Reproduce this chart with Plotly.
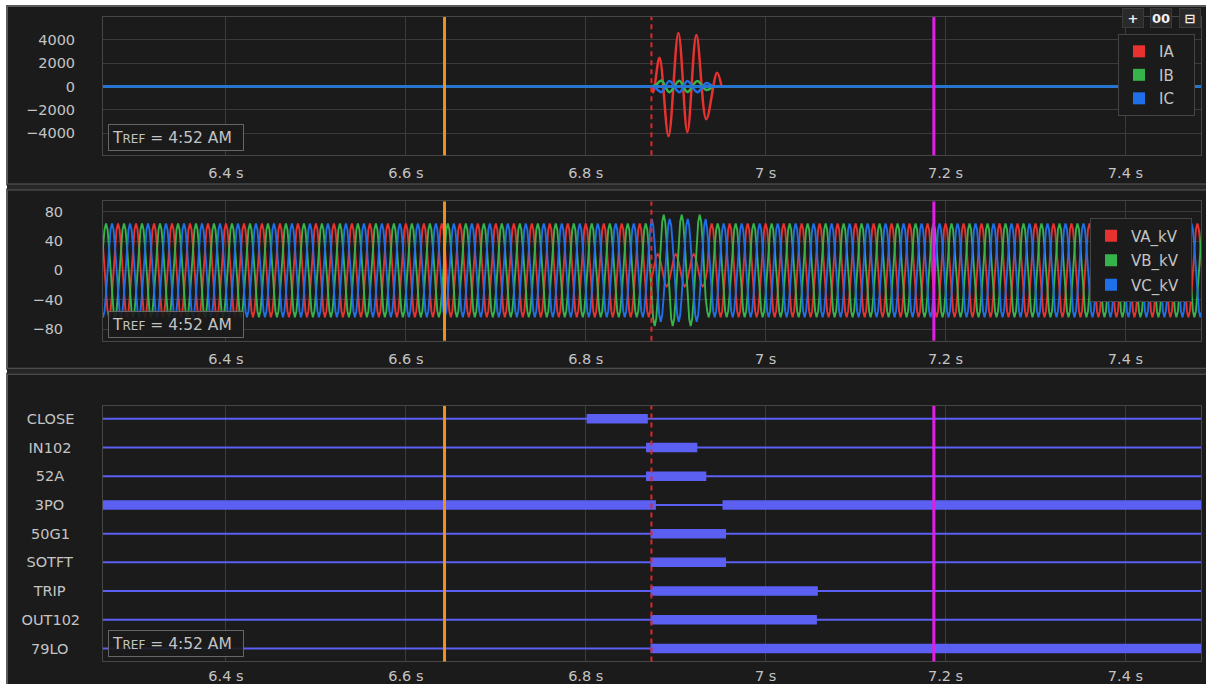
import plotly.graph_objects as go

# ---------------- data ----------------
X_RANGE = [6.2633, 7.484]
X_TICKS = [6.4, 6.6, 6.8, 7.0, 7.2, 7.4]
X_TICKTEXT = ["6.4 s", "6.6 s", "6.8 s", "7 s", "7.2 s", "7.4 s"]

# event cursors (s)
CURSOR_ORANGE = 6.643
CURSOR_TRIGGER = 6.873
CURSOR_MAGENTA = 7.187

# currents (A) - burst points; baseline 0 elsewhere
IA_T = [6.873, 6.875, 6.882, 6.892, 6.903, 6.913, 6.923, 6.934, 6.946, 6.951]
IA_V = [0, -500, 2470, -4250, 4600, -3900, 4430, -2800, 1190, 0]
IB_T = [6.873, 6.878, 6.884, 6.893, 6.904, 6.913, 6.924, 6.934, 6.941]
IB_V = [0, 150, 510, -480, 500, -470, 480, -300, 0]
IC_T = [6.873, 6.878, 6.884, 6.893, 6.904, 6.913, 6.924, 6.934, 6.941]
IC_V = [0, -150, -480, 470, -500, 480, -490, 300, 0]
I_BASE = 0

# voltages (kV): one sampled cycle (12 samples, 50 Hz) and amplitude per phase and period
V_CYCLE = [0.0, 0.5, 0.87, 1.0, 0.87, 0.5, 0.0, -0.5, -0.87, -1.0, -0.87, -0.5]
V_CYCLE_SEC = 0.02
V_START = 6.255
V_END = 7.49
VA_SEGMENTS = [(6.2, 6.873, 64), (6.873, 6.935, 22), (6.935, 7.5, 64)]
VB_SEGMENTS = [(6.2, 6.873, 64), (6.873, 6.935, 76), (6.935, 7.5, 64)]
VC_SEGMENTS = [(6.2, 6.873, 64), (6.873, 6.935, 70), (6.935, 7.5, 64)]
V_LAG_SAMPLES = [0, 4, 8]

# digital channels
DIG_NAMES = ["CLOSE", "IN102", "52A", "3PO", "50G1", "SOTFT", "TRIP", "OUT102", "79LO"]
DIG_ON = [
    [(6.801, 6.869)],
    [(6.867, 6.924)],
    [(6.867, 6.934)],
    [(6.2633, 6.878), (6.952, 7.484)],
    [(6.872, 6.956)],
    [(6.872, 6.956)],
    [(6.872, 7.058)],
    [(6.872, 7.057)],
    [(6.872, 7.484)],
]

# ---------------- styling ----------------
W, H = 1206, 684
VS = 0.992            # vertical compensation of the capture
FONT = "DejaVu Sans"
TXT = "#c4c4c4"
GRID = "#3b3b3b"
PANEL = "#1b1b1b"
RED, GREEN, BLUE = "#e8322f", "#36b34a", "#1f6fe8"
DIG = "#5b5ff2"
EN, THIN, HAIR = "\u2002", "\u2009", "\u200a"
# trailing padding so the channel names look centred in their column
LABEL_PAD = [THIN * 2, EN + HAIR, EN * 2 + HAIR, EN * 2 + HAIR, EN + THIN, EN, EN * 2, "", EN + THIN + HAIR]


def py(p):
    return 1 - (p / VS) / H


def px(p):
    return p / W


# plot-area pixel boxes (reference picture coordinates)
P1 = (17, 155)
P2 = (201, 340)
P3 = (405, 660)
XL, XR = 103, 1201

fig = go.Figure()

# currents: bursts then flat baselines
for nm, col, tt, vv in [("IA", RED, IA_T, IA_V), ("IB", GREEN, IB_T, IB_V), ("IC", BLUE, IC_T, IC_V)]:
    fig.add_trace(go.Scatter(x=tt, y=vv, mode="lines", line=dict(color=col, width=2.5, shape="spline"),
                             xaxis="x", yaxis="y", showlegend=False, name=nm))
for nm, col in [("IA", RED), ("IB", GREEN), ("IC", BLUE)]:
    fig.add_trace(go.Scatter(x=X_RANGE, y=[I_BASE, I_BASE], mode="lines", line=dict(color=col, width=2.5),
                             xaxis="x", yaxis="y", showlegend=False, name=nm, hoverinfo="skip"))
for nm, col in [("IA", RED), ("IB", GREEN), ("IC", BLUE)]:
    fig.add_trace(go.Scatter(x=[None], y=[None], mode="markers", name=nm + EN * 2, legendgroup=nm,
                             marker=dict(symbol="square", size=12, color=col),
                             xaxis="x", yaxis="y", legend="legend"))


# voltages
def amp_at(t, segs):
    for a, b, v in segs:
        if a <= t < b:
            return v
    return segs[-1][2]


n_per = len(V_CYCLE)
step = V_CYCLE_SEC / n_per
n = int(round((V_END - V_START) / step)) + 1
vt = [V_START + i * step for i in range(n)]
for nm, col, segs, lag in [("VA_kV", RED, VA_SEGMENTS, V_LAG_SAMPLES[0]),
                           ("VB_kV", GREEN, VB_SEGMENTS, V_LAG_SAMPLES[1]),
                           ("VC_kV", BLUE, VC_SEGMENTS, V_LAG_SAMPLES[2])]:
    vv = [amp_at(t, segs) * V_CYCLE[(i - lag) % n_per] for i, t in enumerate(vt)]
    fig.add_trace(go.Scatter(x=vt, y=vv, mode="lines", line=dict(color=col, width=1.9),
                             xaxis="x2", yaxis="y2", showlegend=False, name=nm))
for nm, col in [("VA_kV", RED), ("VB_kV", GREEN), ("VC_kV", BLUE)]:
    fig.add_trace(go.Scatter(x=[None], y=[None], mode="markers", name=nm + EN, legendgroup=nm,
                             marker=dict(symbol="square", size=12, color=col),
                             xaxis="x2", yaxis="y2", legend="legend2"))

# digital channels
for i, nm in enumerate(DIG_NAMES):
    fig.add_trace(go.Scatter(x=X_RANGE, y=[i, i], mode="lines", line=dict(color=DIG, width=2),
                             xaxis="x3", yaxis="y3", showlegend=False, hoverinfo="skip"))
    xs, ys = [], []
    for a, b in DIG_ON[i]:
        xs += [a, b, None]
        ys += [i, i, None]
    fig.add_trace(go.Scatter(x=xs, y=ys, mode="lines", line=dict(color=DIG, width=9.5),
                             xaxis="x3", yaxis="y3", showlegend=False, name=nm))

# ---------------- layout ----------------
TICKFONT = dict(family=FONT, size=14.5, color=TXT)
xcommon = dict(range=X_RANGE, tickvals=X_TICKS, ticktext=X_TICKTEXT, showgrid=True, gridcolor=GRID,
               gridwidth=1, zeroline=False, showline=True, mirror=True, linecolor="#474747", linewidth=1,
               ticks="outside", tickcolor="rgba(0,0,0,0)", tickfont=TICKFONT, fixedrange=True)
dom_x = [px(XL), px(XR)]

layout = dict(
    width=W, height=H, margin=dict(l=0, r=0, t=0, b=0),
    paper_bgcolor="#ffffff", plot_bgcolor="rgba(0,0,0,0)",
    font=dict(family=FONT, color=TXT, size=14),
    xaxis=dict(domain=dom_x, anchor="y", ticklen=4, **xcommon),
    xaxis2=dict(domain=dom_x, anchor="y2", ticklen=5, **xcommon),
    xaxis3=dict(domain=dom_x, anchor="y3", ticklen=1, **xcommon),
    yaxis=dict(domain=[py(P1[1]), py(P1[0])], anchor="x", range=[-5900, 5960],
               tickvals=[-4000, -2000, 0, 2000, 4000], showgrid=True, gridcolor=GRID, zeroline=False,
               showline=True, mirror=True, linecolor="#474747", ticks="outside", ticklen=24,
               tickcolor="rgba(0,0,0,0)", tickfont=TICKFONT),
    yaxis2=dict(domain=[py(P2[1]), py(P2[0])], anchor="x2", range=[-96, 94],
                tickvals=[-80, -40, 0, 40, 80], showgrid=True, gridcolor=GRID, zeroline=False,
                showline=True, mirror=True, linecolor="#474747", ticks="outside", ticklen=36,
                tickcolor="rgba(0,0,0,0)", tickfont=TICKFONT),
    yaxis3=dict(domain=[py(P3[1]), py(P3[0])], anchor="x3", range=[8.45, -0.45],
                tickvals=list(range(len(DIG_NAMES))),
                ticktext=[nm + pad for nm, pad in zip(DIG_NAMES, LABEL_PAD)],
                showgrid=False, zeroline=False,
                showline=True, mirror=True, linecolor="#474747", ticks="outside", ticklen=19,
                tickcolor="rgba(0,0,0,0)", tickfont=TICKFONT),
    legend=dict(x=px(1118), y=py(34), xanchor="left", yanchor="top", bgcolor="#1b1b1b",
                bordercolor="#444444", borderwidth=1, font=dict(family=FONT, size=15, color=TXT),
                itemwidth=30, tracegroupgap=1),
    legend2=dict(x=px(1090), y=py(218), xanchor="left", yanchor="top", bgcolor="#1b1b1b",
                 bordercolor="#444444", borderwidth=1, font=dict(family=FONT, size=15, color=TXT),
                 itemwidth=30, tracegroupgap=2),
)
fig.update_layout(**layout)

shapes = []
# panel backgrounds (white page edge at top/left)
for top, bot in [(6, 184), (189, 368), (373, 700)]:
    shapes.append(dict(type="rect", xref="paper", yref="paper", x0=px(7), x1=px(1215), y0=py(bot), y1=py(top),
                       fillcolor=PANEL, line=dict(color="#5a5a5a", width=2), layer="below"))
# gaps between panels
for top, bot in [(184, 189), (368, 373)]:
    shapes.append(dict(type="rect", xref="paper", yref="paper", x0=px(7), x1=px(1215), y0=py(bot), y1=py(top),
                       fillcolor="#262626", line=dict(width=0), layer="below"))

# cursors in each panel
for xa, ya in [("x", "y"), ("x2", "y2"), ("x3", "y3")]:
    shapes.append(dict(type="line", xref=xa, yref=ya + " domain", x0=CURSOR_ORANGE, x1=CURSOR_ORANGE, y0=0, y1=1,
                       line=dict(color="#f0901e", width=3)))
    shapes.append(dict(type="line", xref=xa, yref=ya + " domain", x0=CURSOR_MAGENTA, x1=CURSOR_MAGENTA, y0=0, y1=1,
                       line=dict(color="#e01ee6", width=3)))
    shapes.append(dict(type="line", xref=xa, yref=ya + " domain", x0=CURSOR_TRIGGER, x1=CURSOR_TRIGGER, y0=0, y1=1,
                       line=dict(color="#e02626", width=2, dash="5px,4px")))
fig.update_layout(shapes=shapes)

annotations = []
tref = "T<span style='font-size:12px'>REF</span> = 4:52 AM"
for cy in [137.5, 324, 642]:
    annotations.append(dict(xref="paper", yref="paper", x=px(108), y=py(cy), xanchor="left", yanchor="middle",
                            text=tref, showarrow=False, align="left", width=128, height=19,
                            font=dict(family=FONT, size=15.5, color=TXT), bgcolor="rgba(27,27,27,0.9)",
                            bordercolor="#666666", borderwidth=1, borderpad=3))
# toolbar buttons
for cx, label in [(1133, "<b>+</b>"), (1161, "<b>00</b>"), (1190, "<b>⊟</b>")]:
    annotations.append(dict(xref="paper", yref="paper", x=px(cx), y=py(18), xanchor="center", yanchor="middle",
                            text=label, showarrow=False, width=18, height=16,
                            font=dict(family="DejaVu Sans", size=13, color="#f0f0f0"), bgcolor="#2a2a2a",
                            bordercolor="#3a3a3a", borderwidth=1, borderpad=1))
fig.update_layout(annotations=annotations)

fig.write_html("out.html", config={"displayModeBar": False},
               post_script="document.body.style.margin='0';document.body.style.overflow='hidden';")
